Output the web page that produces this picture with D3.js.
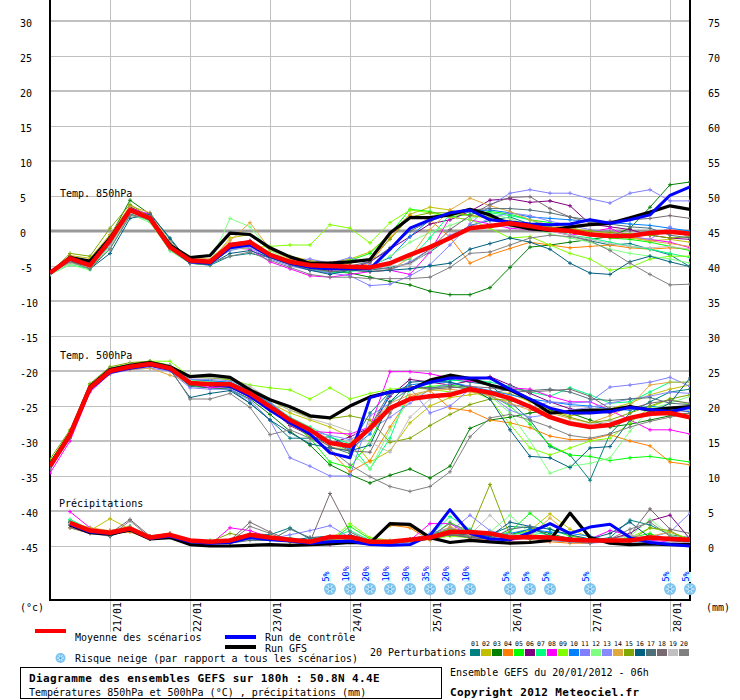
<!DOCTYPE html>
<html>
<head>
<meta charset="utf-8">
<script src="https://cdn.jsdelivr.net/npm/d3@7"></script>
<style>
  body { margin: 0; background: #fff; }
  text { font-family: "DejaVu Sans Mono", monospace; }
</style>
</head>
<body>
<script>
// time steps (hours since 20/01/2012 06h)
const hours = [0,6,12,18,24,30,36,42,48,54,60,66,72,78,84,90,96,102,108,114,120,126,132,138,144,150,156,162,168,174,180,186,192];
const dayHours = [18,42,66,90,114,138,162,186];
const dayLabels = ["21/01","22/01","23/01","24/01","25/01","26/01","27/01","28/01"];
const leftTicks = [30,25,20,15,10,5,0,-5,-10,-15,-20,-25,-30,-35,-40,-45];
const rightTicks = [75,70,65,60,55,50,45,40,35,30,25,20,15,10,5,0];

const memberNames = ["01","02","03","04","05","06","07","08","09","10","11","12","13","14","15","16","17","18","19","20"];
const memberColors = ["#008080","#c0c000","#008000","#ff8000","#00ff00","#800080","#00ff80","#ff00ff","#80ff00","#0080ff",
                      "#8080ff","#80ff80","#8888ff","#e0a840","#80a800","#006080","#507078","#786870","#c0c0c0","#808080"];

// Temp 850hPa (°C)
const t850Mean = [-6.0,-3.9,-4.9,-1.3,3.0,1.8,-2.3,-4.2,-4.4,-2.0,-1.6,-3.4,-4.4,-4.9,-5.0,-5.1,-5.2,-4.6,-3.4,-2.3,-1.0,0.4,0.7,1.1,0.7,0.2,0.0,-0.5,-0.7,-0.7,-0.3,-0.1,-0.4];
const t850Ctrl = [-6.0,-4.0,-4.8,-1.4,3.0,1.8,-2.2,-4.4,-4.6,-2.4,-2.0,-3.6,-4.6,-5.2,-5.4,-5.4,-5.4,-2.6,0.4,1.6,2.6,3.0,1.6,1.3,1.0,0.9,1.0,1.6,1.1,1.6,2.3,5.1,6.3];
const t850Gfs = [-6.0,-3.8,-4.3,-1.0,3.0,1.8,-2.0,-3.8,-3.5,-0.3,-0.5,-2.4,-3.7,-4.6,-4.6,-4.4,-4.1,-0.3,1.9,1.9,2.3,3.1,2.3,0.9,0.3,0.1,0.6,0.9,1.1,1.9,2.7,3.6,3.1];
const t850Members = [
  [-6.0,-4.2,-5.3,-2.5,2.2,2.6,-1.2,-4.6,-4.9,-3.6,-3.2,-3.8,-4.8,-5.6,-6.0,-5.4,-5.6,-5.2,-4.6,-3.0,-1.0,0.8,1.5,2.0,1.0,0.2,-0.6,-1.4,-2.0,-1.8,-2.6,-3.4,-5.1],
  [-6.0,-3.5,-3.9,-0.5,3.5,2.0,-2.0,-4.3,-4.5,-1.0,-0.5,-2.8,-3.6,-4.2,-4.6,-4.0,-3.0,-0.5,2.4,3.4,3.0,2.2,1.8,1.2,0.8,0.5,0.3,-0.2,-0.6,-1.0,-1.4,-1.2,-1.6],
  [-6.1,-3.8,-4.6,-0.8,4.4,2.4,-2.6,-4.4,-4.6,-2.4,-2.0,-3.6,-4.6,-5.2,-5.8,-6.0,-6.6,-7.2,-7.7,-8.6,-9.1,-9.1,-8.1,-5.2,-2.3,-2.0,-1.6,-1.2,-0.8,0.4,3.4,6.6,7.0],
  [-6.0,-4.0,-4.8,-1.2,3.0,1.6,-2.4,-4.4,-4.6,-2.0,-1.4,-3.4,-4.4,-5.0,-5.4,-5.4,-4.6,-1.0,2.2,1.6,-0.9,-4.6,-3.4,-2.5,-1.6,-2.0,-2.4,-2.2,-2.0,-2.4,-2.6,-2.4,-2.6],
  [-6.1,-4.4,-5.0,-1.6,2.8,1.9,-2.6,-4.4,-4.4,-2.2,-1.8,-3.6,-4.6,-5.0,-4.8,-4.2,-3.2,-0.4,3.1,2.8,2.0,2.4,2.8,2.4,1.6,1.2,0.6,-0.4,-1.0,-1.2,-1.6,-2.2,-2.8],
  [-6.0,-3.6,-4.4,-1.0,3.4,2.2,-2.0,-4.0,-4.2,-1.8,-1.4,-3.4,-4.6,-5.2,-5.6,-5.4,-4.4,-2.6,-0.8,1.0,1.6,2.8,4.4,4.6,4.1,4.3,3.6,1.0,0.6,0.2,-0.6,-1.0,-1.2],
  [-6.2,-4.8,-5.4,-2.0,2.6,1.4,-2.8,-4.6,-4.8,-2.6,-2.2,-3.6,-4.6,-5.4,-6.0,-5.8,-5.4,-4.6,-4.0,-1.0,2.4,2.8,2.6,2.2,1.6,0.4,-0.6,-1.0,-1.6,-2.2,-2.6,-3.2,-3.8],
  [-6.0,-4.2,-5.0,-1.6,3.2,2.4,-2.2,-4.4,-4.6,-2.4,-2.6,-4.4,-5.4,-6.4,-6.6,-6.2,-5.8,-5.6,-6.2,-3.0,2.0,1.6,1.0,0.4,0.2,0.0,-0.6,-0.2,0.4,-0.8,-1.2,-1.6,-2.4],
  [-6.0,-4.6,-5.2,-1.8,2.4,2.2,-2.6,-4.6,-4.8,-2.6,-2.4,-2.2,-2.0,-2.0,0.9,0.4,-1.7,1.2,3.0,2.6,2.0,1.6,0.4,-1.0,-0.8,-2.0,-3.2,-4.0,-5.6,-5.2,-4.0,-3.6,-3.6],
  [-6.0,-4.2,-4.8,-1.4,3.0,1.8,-2.2,-4.4,-4.6,-2.0,-1.6,-3.4,-4.4,-5.0,-5.2,-5.0,-5.0,-3.8,-0.8,1.6,2.4,2.8,3.0,2.6,2.0,1.8,1.6,1.4,1.2,1.0,0.8,0.4,0.0],
  [-5.9,-4.0,-4.6,-1.2,3.2,2.0,-1.6,-4.0,-4.2,-2.2,-2.4,-4.0,-5.0,-5.6,-6.0,-6.4,-7.8,-7.6,-6.4,-4.8,-2.0,1.0,3.6,5.4,5.9,5.4,5.4,4.6,4.0,5.4,5.9,4.3,4.3],
  [-6.2,-4.8,-5.6,-2.4,2.4,1.2,-2.8,-4.6,-4.6,1.8,0.6,-2.8,-4.2,-4.8,-5.4,-5.6,-5.2,-3.6,-1.6,-0.2,0.8,1.8,2.4,1.8,0.6,-0.4,-1.0,-1.6,-2.6,-3.2,-3.6,-4.0,-4.6],
  [-6.0,-4.0,-5.0,-1.8,2.8,1.6,-2.4,-4.2,-4.4,-2.8,-2.2,-3.8,-4.2,-4.0,-4.6,-3.8,-4.8,-5.6,-4.4,-2.6,-0.6,0.6,1.8,2.6,2.2,1.4,0.8,0.2,-0.2,-0.8,-1.2,0.6,-1.0],
  [-6.0,-3.8,-4.4,-0.6,3.6,2.6,-1.6,-3.8,-4.0,-1.4,1.2,-2.6,-4.0,-4.6,-5.2,-5.6,-5.8,-5.6,-3.8,0.2,3.0,4.7,3.6,2.8,1.6,0.8,0.4,0.0,-0.4,-0.8,-1.4,-1.8,-2.2],
  [-6.0,-3.2,-3.6,0.4,3.8,2.0,-2.2,-4.2,-4.4,-2.0,-1.8,-3.2,-4.2,-4.8,-5.0,-4.6,-4.0,-1.2,2.0,2.6,2.6,2.2,2.0,1.4,1.0,0.6,0.2,0.0,-0.2,-0.4,-0.6,-1.0,-0.8],
  [-6.0,-4.2,-5.4,-3.2,1.8,2.4,-1.0,-4.6,-4.8,-3.2,-2.8,-3.8,-4.8,-5.6,-6.2,-5.6,-5.8,-5.6,-5.4,-5.0,-4.6,-2.6,-1.8,-1.0,-1.6,-2.6,-4.6,-6.0,-6.2,-4.4,-3.6,-4.4,-5.1],
  [-6.1,-4.4,-5.0,-2.0,2.4,1.8,-2.6,-4.6,-4.8,-2.6,-2.0,-3.6,-4.6,-5.0,-5.2,-5.0,-4.4,-2.4,0.0,1.4,2.4,3.0,3.2,3.2,3.0,2.6,2.0,1.6,1.0,0.6,0.4,-0.6,-1.0],
  [-6.0,-4.0,-4.8,-1.4,3.0,2.2,-1.8,-4.2,-4.4,-2.2,-1.8,-3.6,-4.8,-5.4,-5.8,-5.6,-5.4,-5.4,-4.6,-2.6,0.2,2.2,3.8,4.8,4.9,3.2,2.0,1.2,1.4,1.6,1.8,2.2,1.8],
  [-6.1,-4.6,-5.2,-2.2,2.6,1.6,-2.6,-4.4,-4.6,-2.6,-2.2,-3.6,-4.4,-5.0,-5.4,-5.2,-5.4,-5.0,-4.8,-2.8,-1.0,0.4,1.0,0.6,0.2,0.0,-0.6,-1.2,-1.8,-2.2,-2.4,-2.2,-2.6],
  [-6.0,-4.4,-5.4,-2.6,2.2,1.8,-2.4,-4.6,-4.6,-3.6,-3.0,-4.2,-5.2,-6.2,-6.6,-6.6,-6.8,-6.8,-6.8,-6.6,-5.2,-3.2,-3.0,-2.0,-1.0,-0.6,-0.8,-1.4,-2.8,-4.6,-6.2,-7.7,-7.6]
];

// Temp 500hPa (°C)
const t500Mean = [-33.6,-29.1,-22.4,-20.0,-19.4,-19.0,-19.6,-21.7,-21.9,-21.9,-23.2,-25.1,-27.0,-28.4,-30.3,-30.7,-28.2,-25.3,-24.0,-23.6,-23.4,-22.6,-23.1,-23.9,-25.1,-26.6,-27.5,-28.0,-27.7,-26.7,-26.1,-26.0,-26.6];
const t500Ctrl = [-33.6,-29.2,-22.6,-20.2,-19.6,-19.2,-19.8,-21.6,-22.0,-22.2,-23.6,-25.6,-27.4,-29.0,-31.7,-32.4,-23.8,-23.0,-22.6,-21.6,-21.0,-21.0,-21.0,-22.6,-24.0,-25.3,-26.0,-26.0,-25.8,-25.2,-25.5,-25.8,-25.2];
const t500Gfs = [-33.4,-29.0,-22.2,-19.8,-19.2,-18.8,-19.4,-20.8,-20.6,-20.9,-22.7,-24.1,-25.1,-26.4,-26.7,-25.0,-23.7,-23.0,-22.7,-21.3,-20.6,-21.1,-22.0,-22.7,-24.1,-26.0,-25.8,-25.6,-25.6,-25.1,-25.6,-25.3,-25.1];
const t500Members = [
  [-33.8,-29.4,-22.8,-20.2,-19.6,-19.2,-19.8,-22.2,-22.4,-22.6,-24.6,-27.0,-29.6,-29.6,-29.4,-30.8,-26.0,-23.0,-22.4,-21.8,-21.2,-21.6,-22.0,-24.4,-27.0,-30.8,-32.0,-35.6,-29.0,-26.0,-24.4,-23.0,-22.6],
  [-33.2,-28.8,-22.0,-19.8,-19.2,-18.8,-19.4,-21.2,-21.4,-21.6,-22.8,-24.6,-26.0,-27.0,-28.0,-29.4,-33.0,-31.4,-27.4,-25.0,-23.8,-23.4,-23.0,-23.2,-24.4,-25.6,-26.4,-26.0,-25.4,-24.6,-23.4,-22.6,-22.0],
  [-33.6,-29.2,-22.6,-20.0,-19.4,-19.0,-19.8,-22.0,-22.4,-22.6,-24.0,-26.2,-28.6,-30.6,-33.4,-34.8,-36.0,-34.9,-34.0,-35.3,-33.6,-28.2,-27.0,-26.6,-26.0,-25.6,-26.0,-27.0,-28.0,-27.6,-27.0,-26.4,-26.0],
  [-33.4,-29.0,-22.4,-20.0,-19.4,-19.2,-19.8,-21.8,-22.0,-22.2,-23.6,-25.6,-27.4,-29.4,-31.4,-34.4,-32.8,-28.0,-23.7,-22.8,-25.3,-25.7,-27.0,-27.4,-28.1,-29.3,-29.8,-29.8,-29.1,-30.0,-30.7,-33.0,-33.4],
  [-33.0,-28.6,-22.0,-19.6,-19.0,-18.6,-19.2,-21.4,-21.6,-21.8,-23.4,-25.6,-27.2,-29.6,-33.0,-33.8,-30.0,-24.4,-22.6,-22.2,-22.0,-22.4,-23.4,-25.0,-27.6,-30.6,-32.0,-32.2,-32.8,-32.4,-32.2,-32.6,-33.0],
  [-33.6,-29.2,-22.6,-20.0,-19.4,-19.0,-19.6,-21.6,-21.8,-22.0,-23.4,-25.4,-27.8,-29.2,-30.4,-29.4,-28.1,-23.6,-21.2,-21.6,-22.0,-21.4,-20.8,-22.0,-23.2,-24.4,-25.4,-25.8,-26.0,-25.0,-25.4,-25.8,-25.8],
  [-33.8,-29.4,-22.8,-20.2,-19.6,-19.2,-19.6,-21.4,-21.6,-21.8,-22.8,-24.6,-26.6,-28.0,-29.4,-30.4,-34.0,-29.6,-22.4,-21.6,-21.4,-21.2,-21.6,-22.2,-23.0,-23.6,-22.4,-23.4,-24.6,-24.4,-23.0,-21.6,-21.6],
  [-34.6,-30.0,-23.0,-20.4,-19.6,-19.2,-19.6,-21.8,-22.4,-22.2,-23.8,-25.6,-27.2,-28.6,-28.8,-29.0,-28.0,-20.1,-20.1,-20.4,-21.0,-21.4,-22.0,-22.4,-22.6,-23.6,-24.4,-24.4,-25.6,-27.0,-28.4,-28.4,-29.0],
  [-33.2,-28.8,-22.2,-19.8,-19.0,-18.6,-18.6,-20.8,-21.0,-21.2,-22.0,-22.4,-22.7,-24.0,-22.4,-24.0,-23.2,-22.6,-22.4,-22.6,-23.0,-22.8,-24.0,-27.6,-31.0,-32.0,-31.0,-30.0,-29.6,-27.4,-25.2,-24.0,-24.8],
  [-33.6,-29.0,-22.4,-19.8,-19.2,-18.8,-19.2,-21.2,-21.4,-21.6,-22.8,-24.6,-26.8,-28.4,-30.0,-31.2,-29.0,-23.2,-22.0,-21.6,-21.6,-22.2,-22.8,-23.4,-24.0,-24.4,-24.8,-25.0,-25.4,-25.6,-25.0,-25.4,-25.8],
  [-34.0,-29.6,-22.8,-20.4,-19.8,-19.6,-20.0,-22.4,-22.6,-22.6,-24.2,-27.0,-32.4,-33.6,-35.0,-35.0,-26.4,-24.6,-22.4,-26.0,-25.0,-22.6,-23.6,-24.8,-25.2,-24.4,-24.6,-24.4,-22.3,-22.0,-21.6,-20.9,-22.2],
  [-33.4,-29.0,-22.4,-20.0,-19.4,-19.0,-19.4,-21.4,-21.6,-22.0,-23.4,-25.4,-27.2,-28.6,-30.2,-31.6,-34.0,-28.4,-24.0,-22.6,-22.2,-22.6,-23.6,-26.0,-30.0,-34.6,-33.6,-33.2,-32.4,-28.6,-25.4,-24.6,-23.6],
  [-33.2,-28.8,-22.2,-19.6,-19.2,-18.8,-19.4,-21.2,-21.2,-21.4,-22.6,-24.4,-26.8,-28.6,-29.2,-29.8,-28.4,-26.6,-24.6,-22.6,-21.8,-22.2,-23.4,-25.6,-26.6,-26.2,-25.6,-25.2,-24.6,-24.0,-23.6,-23.0,-23.2],
  [-33.6,-29.2,-22.6,-20.2,-19.8,-19.6,-20.6,-21.6,-22.0,-22.4,-23.4,-25.6,-27.6,-29.2,-30.8,-31.4,-27.6,-24.6,-23.4,-22.8,-22.6,-23.0,-23.6,-24.6,-25.6,-26.0,-26.8,-27.4,-26.4,-25.0,-22.0,-21.6,-21.6],
  [-32.6,-28.4,-21.8,-19.4,-18.8,-18.6,-19.2,-20.8,-21.0,-21.2,-22.6,-24.2,-25.6,-26.6,-26.8,-26.4,-27.0,-30.2,-29.6,-27.8,-26.2,-24.8,-24.0,-24.2,-25.0,-25.8,-26.6,-27.4,-27.0,-26.0,-25.0,-24.0,-23.4],
  [-33.8,-29.4,-22.8,-20.2,-19.6,-19.2,-19.8,-23.8,-23.2,-22.8,-24.6,-27.0,-28.8,-30.4,-31.0,-31.4,-30.6,-24.4,-21.6,-21.4,-21.6,-22.4,-24.0,-28.4,-32.2,-32.4,-33.8,-31.0,-30.8,-27.0,-26.0,-24.6,-21.0],
  [-33.6,-29.2,-22.6,-20.0,-19.4,-19.0,-19.6,-21.8,-22.0,-22.2,-23.6,-25.6,-27.6,-29.0,-30.8,-31.8,-28.0,-23.0,-22.2,-22.4,-22.2,-22.6,-23.2,-22.6,-22.8,-22.6,-23.0,-24.0,-24.2,-24.0,-23.8,-24.6,-24.8],
  [-33.4,-29.0,-22.4,-19.8,-19.2,-18.8,-19.4,-21.6,-21.8,-22.0,-23.4,-25.2,-27.2,-28.6,-30.0,-31.4,-31.6,-26.0,-22.2,-22.6,-22.4,-22.2,-22.4,-22.8,-23.0,-22.8,-22.6,-23.6,-25.4,-25.4,-24.6,-24.2,-24.6],
  [-33.2,-28.8,-22.2,-19.8,-19.0,-18.8,-19.2,-21.0,-21.0,-21.0,-22.2,-24.0,-25.6,-26.8,-27.6,-28.6,-30.2,-31.6,-26.6,-24.0,-23.0,-22.6,-23.0,-23.6,-25.0,-26.4,-27.2,-27.6,-27.2,-26.8,-26.4,-26.0,-25.6],
  [-34.0,-29.6,-22.8,-20.2,-19.6,-19.2,-19.6,-24.0,-24.0,-23.2,-25.2,-29.1,-28.4,-29.6,-31.2,-33.4,-35.1,-36.5,-37.2,-36.5,-34.4,-29.4,-26.7,-26.2,-27.0,-28.0,-29.2,-29.6,-29.0,-28.0,-27.2,-26.6,-26.0]
];

// precipitations (mm / 6h), nothing at the first step
const rrMean = [null,3.3,2.2,1.9,2.5,1.2,1.6,0.8,0.6,0.8,1.6,1.2,0.9,0.6,1.3,1.3,0.6,0.6,0.9,1.2,2.0,2.0,1.8,1.2,1.3,1.2,0.9,0.8,0.8,0.8,1.2,1.0,0.9];
const rrCtrl = [null,3.1,2.0,1.8,2.4,1.1,1.4,0.6,0.4,0.5,1.2,0.9,0.7,0.4,0.6,0.7,0.2,0.1,0.2,1.5,5.2,1.8,1.0,0.9,1.9,3.2,1.8,2.7,3.1,1.2,0.5,0.2,0.0];
const rrGfs = [null,3.0,1.9,1.7,2.3,1.0,1.2,0.2,0.0,0.0,0.1,0.2,0.1,0.2,0.3,0.5,0.4,3.2,3.1,1.2,0.5,0.8,0.6,0.4,0.5,0.8,4.7,1.2,0.4,0.2,0.3,0.2,0.2];
const rrMembers = [
  [null,3.6,2.4,1.4,2.6,1.0,1.4,0.6,0.6,0.8,1.8,1.6,2.6,1.0,1.2,1.4,0.4,0.6,1.0,1.6,2.4,2.0,1.6,2.8,2.6,1.4,1.0,0.8,1.2,3.7,3.0,1.6,1.2],
  [null,3.0,2.2,3.9,2.4,1.2,1.8,0.4,0.2,0.6,1.4,1.0,0.8,0.4,0.8,1.0,0.6,2.9,3.0,1.4,1.6,1.2,1.8,1.6,2.2,4.6,2.4,1.2,0.6,0.8,1.0,0.8,0.6],
  [null,3.2,2.0,1.6,2.2,1.4,1.4,0.8,0.6,0.6,1.2,1.0,0.6,0.4,0.8,1.6,0.8,0.4,0.6,1.0,1.8,1.4,1.2,1.6,2.4,1.8,1.0,0.6,0.8,0.6,1.6,0.8,0.4],
  [null,2.6,1.8,1.8,2.0,1.0,1.6,0.8,0.4,0.4,1.0,1.2,0.6,0.6,0.4,0.8,0.4,3.0,2.6,0.8,2.2,1.0,0.8,0.4,0.6,0.6,0.4,0.4,0.8,1.0,0.6,1.4,0.4],
  [null,3.4,2.6,2.0,2.8,1.2,1.4,0.6,0.8,0.6,1.0,0.8,1.0,0.4,0.6,2.8,1.0,0.6,0.8,1.2,3.4,1.8,1.4,2.0,4.7,2.4,1.4,1.0,0.8,1.2,1.8,0.6,0.2],
  [null,3.0,2.0,2.2,2.6,1.4,1.8,0.6,0.4,0.6,1.4,1.2,0.8,0.6,0.8,1.2,0.6,0.4,0.6,1.0,1.6,1.2,1.0,1.2,1.0,1.4,1.2,0.6,1.0,1.8,3.6,4.4,1.0],
  [null,3.8,2.4,1.8,2.8,1.2,1.4,0.6,0.4,0.8,1.6,1.0,1.2,0.6,1.0,2.2,0.8,0.6,0.8,1.4,4.2,2.4,1.2,1.6,2.0,1.6,1.0,0.8,0.6,0.8,1.2,0.8,0.6],
  [null,4.9,2.6,2.0,2.4,1.0,1.6,0.8,0.2,2.6,2.2,1.2,0.8,0.6,0.2,1.4,0.6,0.4,0.8,3.2,3.2,1.6,1.2,0.8,1.2,1.0,0.8,1.0,2.2,1.6,0.8,0.6,0.4],
  [null,3.0,2.2,1.6,2.6,1.0,1.4,0.4,0.6,0.6,1.0,1.4,0.6,0.4,0.8,3.2,1.2,0.8,0.6,1.0,1.4,1.2,1.8,1.4,1.6,1.2,0.8,0.6,0.8,1.2,2.6,2.0,1.0],
  [null,3.4,2.2,1.6,2.8,1.2,1.6,0.6,0.6,0.8,1.6,1.2,0.8,0.8,1.0,1.6,0.6,0.4,0.6,1.2,2.2,1.8,1.4,1.8,2.4,2.0,1.8,1.4,0.8,0.6,0.6,0.4,0.4],
  [null,3.2,2.0,2.0,2.6,1.4,1.6,0.8,0.6,0.6,1.4,1.0,1.6,2.2,2.9,1.2,0.8,0.6,1.0,1.6,2.0,4.4,2.2,1.4,1.2,1.0,0.8,0.6,0.8,1.0,1.2,2.0,4.7],
  [null,3.6,2.4,1.8,2.6,1.2,1.6,0.6,0.4,0.6,1.2,1.0,0.8,0.6,0.8,1.2,0.6,0.8,0.6,1.4,1.8,1.4,2.0,4.4,1.8,1.2,0.8,0.6,0.6,1.4,3.8,1.6,0.8],
  [null,3.0,2.2,1.8,2.4,1.0,1.4,0.6,0.6,0.4,1.0,0.8,1.0,0.8,1.2,1.4,0.4,0.6,0.8,1.8,2.6,2.0,1.2,1.0,1.2,0.8,0.6,0.4,0.6,0.8,1.0,1.2,0.8],
  [null,3.2,2.6,2.2,2.8,1.4,1.8,0.8,0.4,0.8,1.2,1.0,0.6,0.4,0.6,1.0,0.6,3.2,2.8,1.0,2.8,1.4,1.0,1.0,1.4,4.0,1.6,0.8,0.6,0.8,1.4,2.0,0.8],
  [null,3.2,2.4,2.0,2.6,1.2,1.6,0.6,0.6,1.8,1.2,1.0,0.8,0.6,0.8,1.0,0.6,0.4,0.8,1.4,2.4,2.0,8.8,1.4,1.0,1.2,1.0,0.6,0.8,0.8,2.6,2.2,0.6],
  [null,3.4,2.2,1.4,2.4,1.2,1.4,0.6,0.4,0.6,1.2,1.0,0.8,1.2,1.4,1.2,0.6,0.6,0.8,1.2,1.8,1.6,1.4,3.4,2.8,2.4,1.6,1.0,1.8,3.4,1.2,0.8,0.6],
  [null,3.0,2.0,1.6,2.2,1.0,1.2,0.6,0.4,0.4,0.8,0.8,2.4,1.2,1.0,1.2,0.4,0.4,0.6,1.0,1.6,1.2,1.0,2.4,2.8,1.4,1.0,0.8,0.6,0.8,1.0,1.2,1.0],
  [null,3.4,2.2,1.8,3.8,1.4,1.6,0.8,0.6,0.8,3.4,2.0,0.8,0.6,7.5,2.0,0.6,0.4,0.6,1.2,1.6,1.4,1.2,1.6,1.4,1.2,1.0,0.8,1.0,1.6,5.3,2.4,1.8],
  [null,3.2,2.0,1.6,2.4,1.2,1.4,0.6,0.6,0.8,1.4,1.2,0.8,0.4,0.6,1.2,0.8,0.6,0.6,1.2,2.2,1.6,4.4,1.6,1.4,1.0,0.8,0.6,0.8,1.6,1.2,0.6,0.4],
  [null,2.6,1.8,1.4,3.6,1.2,1.4,0.6,0.4,0.6,2.8,1.8,0.6,0.4,1.0,1.4,0.6,0.4,0.8,1.4,3.2,2.2,1.8,1.4,1.2,0.8,0.6,0.4,1.0,2.4,3.4,1.4,1.0]
];

// snow risk (% of scenarios)
const snowHours = [84,90,96,102,108,114,120,126,138,144,150,162,186,192];
const snowPct = [5,10,20,10,30,35,20,10,5,5,5,5,5,5];

const svg = d3
  .select("body")
  .append("svg")
  .attr("width", 740)
  .attr("height", 700)
  .style("display", "block");

const left = 50, right = 690, bottom = 600;

const x = d3.scaleLinear().domain([0, 192]).range([left, right]);
const y = d3.scaleLinear().domain([-45, 30]).range([546, 21]);
const yRight = d3.scaleLinear().domain([0, 75]).range([546, 21]);
const yRain = d3.scaleLinear().domain([0, 5]).range([546, 511]);

// grid
const grid = svg.append("g");
dayHours.forEach((h) => {
  grid
    .append("line")
    .attr("x1", x(h) + 0.5)
    .attr("x2", x(h) + 0.5)
    .attr("y1", 0)
    .attr("y2", 632)
    .attr("stroke", "#c0c0c0")
    .attr("stroke-width", 1);
});
leftTicks.forEach((v) => {
  const thick = v % 10 === 0;
  grid
    .append("line")
    .attr("x1", left)
    .attr("x2", right)
    .attr("y1", thick ? y(v) : y(v) + 0.5)
    .attr("y2", thick ? y(v) : y(v) + 0.5)
    .attr("stroke", v === 0 ? "#999999" : "#c0c0c0")
    .attr("stroke-width", v === 0 ? 3 : thick ? 2 : 1);
});

// tick labels
leftTicks.forEach((v) => {
  svg
    .append("text")
    .attr("x", 20)
    .attr("y", y(v) + 6)
    .attr("font-family", "Liberation Sans, Arial, sans-serif")
    .attr("font-size", 10)
    .text(v);
});
rightTicks.forEach((v) => {
  svg
    .append("text")
    .attr("x", 708)
    .attr("y", yRight(v) + 6)
    .attr("font-family", "Liberation Sans, Arial, sans-serif")
    .attr("font-size", 10)
    .text(v);
});

// axes lines
svg.append("line").attr("x1", left).attr("x2", left).attr("y1", 0).attr("y2", bottom + 1)
  .attr("stroke", "black").attr("stroke-width", 2);
svg.append("line").attr("x1", right).attr("x2", right).attr("y1", 0).attr("y2", bottom + 1)
  .attr("stroke", "black").attr("stroke-width", 2);
svg.append("line").attr("x1", left).attr("x2", right).attr("y1", bottom).attr("y2", bottom)
  .attr("stroke", "black").attr("stroke-width", 2);

// panel titles
svg.append("text").attr("x", 60).attr("y", 197).attr("font-size", 10).text("Temp. 850hPa");
svg.append("text").attr("x", 60).attr("y", 359).attr("font-size", 10).text("Temp. 500hPa");
svg.append("text").attr("x", 59).attr("y", 507).attr("font-size", 10).text("Précipitations");

// lines
svg.append("clipPath").attr("id", "plot").append("rect")
  .attr("x", left).attr("y", 0).attr("width", right - left).attr("height", bottom);
const plot = svg.append("g").attr("clip-path", "url(#plot)");

function drawMember(values, scale, color) {
  const line = d3.line()
    .defined((d) => d != null)
    .x((d, i) => x(hours[i]))
    .y((d) => scale(d));
  plot.append("path").attr("d", line(values)).attr("fill", "none")
    .attr("stroke", color).attr("stroke-width", 1);
  let marks = "";
  values.forEach((d, i) => {
    if (d == null) return;
    const px = x(hours[i]), py = scale(d);
    marks += `M${px - 2},${py}h4M${px},${py - 2}v4`;
  });
  plot.append("path").attr("d", marks).attr("fill", "none")
    .attr("stroke", color).attr("stroke-width", 1);
}

function drawMain(values, scale, color, w) {
  const line = d3.line()
    .defined((d) => d != null)
    .x((d, i) => x(hours[i]))
    .y((d) => scale(d));
  plot.append("path").attr("d", line(values)).attr("fill", "none")
    .attr("stroke", color).attr("stroke-width", w)
    .attr("stroke-linejoin", "round");
}

[[t850Members, y], [t500Members, y], [rrMembers, yRain]].forEach(([set, scale]) => {
  set.forEach((m, k) => drawMember(m, scale, memberColors[k]));
});
[[t850Gfs, t850Ctrl, t850Mean, y], [t500Gfs, t500Ctrl, t500Mean, y], [rrGfs, rrCtrl, rrMean, yRain]]
  .forEach(([gfs, ctrl, mean, scale]) => {
    drawMain(gfs, scale, "#000000", 3.2);
    drawMain(ctrl, scale, "#0000ff", 3);
    drawMain(mean, scale, "#ff0000", 4.5);
  });

// snowflake icon
function snowflake(cx, cy, r) {
  const g = svg.append("g");
  g.append("circle").attr("cx", cx).attr("cy", cy).attr("r", r).attr("fill", "#7cc3ee");
  [0, 60, 120].forEach((a) => {
    const dx = Math.cos((a * Math.PI) / 180) * (r - 1.5);
    const dy = Math.sin((a * Math.PI) / 180) * (r - 1.5);
    g.append("line")
      .attr("x1", cx - dx).attr("y1", cy - dy)
      .attr("x2", cx + dx).attr("y2", cy + dy)
      .attr("stroke", "#e6f5ff").attr("stroke-width", 1);
  });
  g.append("circle").attr("cx", cx).attr("cy", cy).attr("r", 1.2).attr("fill", "#5aa8dc");
}

snowHours.forEach((h, k) => {
  const cx = x(h);
  svg.append("rect").attr("x", cx - 6).attr("y", 572).attr("width", 7).attr("height", 10)
    .attr("fill", "#ccffff");
  svg.append("text")
    .attr("transform", `translate(${cx - 1},581.5) rotate(-90)`)
    .attr("font-size", 8.5)
    .attr("fill", "#0000ff")
    .text(snowPct[k] + "%");
  snowflake(cx, 589, 6);
});

// date labels
dayHours.forEach((h, k) => {
  svg.append("text")
    .attr("transform", `translate(${x(h) + 11},602) rotate(-90)`)
    .attr("text-anchor", "end")
    .attr("font-size", 10)
    .text(dayLabels[k]);
});
svg.append("text").attr("x", 20).attr("y", 611).attr("font-size", 10).text("(°c)");
svg.append("text").attr("x", 706).attr("y", 611).attr("font-size", 10).text("(mm)");

// legend
svg.append("rect").attr("x", 35).attr("y", 629).attr("width", 31).attr("height", 4).attr("fill", "#ff0000");
svg.append("text").attr("x", 75).attr("y", 641).attr("font-size", 10).text("Moyenne des scénarios");
svg.append("rect").attr("x", 225).attr("y", 635).attr("width", 31).attr("height", 4).attr("fill", "#0000ff");
svg.append("text").attr("x", 265).attr("y", 641).attr("font-size", 10).text("Run de contrôle");
svg.append("rect").attr("x", 225).attr("y", 645).attr("width", 31).attr("height", 4).attr("fill", "#000000");
svg.append("text").attr("x", 265).attr("y", 652).attr("font-size", 10).text("Run GFS");
snowflake(60.5, 658, 5);
svg.append("text").attr("x", 75).attr("y", 662).attr("font-size", 10)
  .text("Risque neige (par rapport a tous les scénarios)");

svg.append("text").attr("x", 370).attr("y", 656).attr("font-size", 10).text("20 Perturbations");
memberNames.forEach((n, k) => {
  svg.append("rect").attr("x", 470 + k * 11).attr("y", 649).attr("width", 10).attr("height", 7)
    .attr("fill", memberColors[k]);
  svg.append("text").attr("x", 475 + k * 11).attr("y", 646).attr("text-anchor", "middle")
    .attr("font-size", 6.5).text(n);
});

// title box
svg.append("rect").attr("x", 20.5).attr("y", 667.5).attr("width", 421).attr("height", 31)
  .attr("fill", "none").attr("stroke", "black").attr("stroke-width", 1);
svg.append("text").attr("x", 29).attr("y", 682).attr("font-size", 11).attr("font-weight", "bold")
  .attr("letter-spacing", 0.4).text("Diagramme des ensembles GEFS sur 180h : 50.8N 4.4E");
svg.append("text").attr("x", 29).attr("y", 696).attr("font-size", 10)
  .text("Températures 850hPa et 500hPa (°C) , précipitations (mm)");
svg.append("text").attr("x", 450).attr("y", 676).attr("font-size", 10)
  .text("Ensemble GEFS du 20/01/2012 - 06h");
svg.append("text").attr("x", 450).attr("y", 696).attr("font-size", 11).attr("font-weight", "bold")
  .attr("letter-spacing", 0.4).text("Copyright 2012 Meteociel.fr");
</script>
</body>
</html>
